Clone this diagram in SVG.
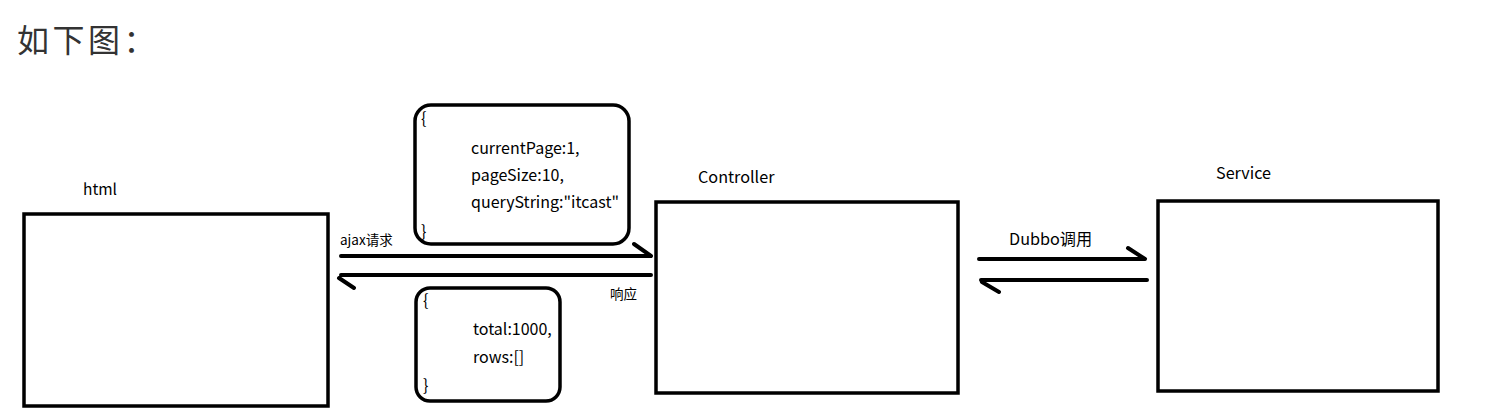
<svg xmlns="http://www.w3.org/2000/svg" width="1486" height="418" viewBox="0 0 1486 418">
<style>
.box{fill:#fff;stroke:#000;stroke-width:3.5}
.rbox{fill:#fff;stroke:#000;stroke-width:3.5}
.ln{stroke:#000;stroke-width:4;fill:none;stroke-linecap:round}
.t{font-family:"Noto Sans CJK SC","Liberation Sans",sans-serif;fill:#000}
.title{font-family:"Liberation Serif","Noto Sans CJK SC",serif;font-size:32px;letter-spacing:3.5px;fill:#333}
</style>
<rect width="1486" height="418" fill="#fff"/>
<text class="title" x="17" y="52">如下图：</text>
<g id="html">
<rect class="box" x="24" y="214" width="304" height="192"/>
<text class="t" x="83" y="195" font-size="15.5">html</text>
</g>
<g id="controller">
<rect class="box" x="656" y="202" width="302" height="191"/>
<text class="t" x="698" y="183" font-size="16.2">Controller</text>
</g>
<g id="service">
<rect class="box" x="1158" y="201" width="280" height="190"/>
<text class="t" x="1216" y="179" font-size="16.2">Service</text>
</g>
<g id="request-data">
<rect class="rbox" x="415" y="105" width="214" height="139" rx="16"/>
<text class="t" font-size="16"><tspan x="421" y="124">{</tspan><tspan x="471" y="154">currentPage:1,</tspan><tspan x="471" y="181">pageSize:10,</tspan><tspan x="471" y="208">queryString:"itcast"</tspan><tspan x="421" y="237">}</tspan></text>
</g>
<g id="response-data">
<rect class="rbox" x="416" y="288" width="144" height="113" rx="14"/>
<text class="t" font-size="16"><tspan x="423" y="306">{</tspan><tspan x="473" y="335">total:1000,</tspan><tspan x="473" y="363">rows:[]</tspan><tspan x="423" y="391">}</tspan></text>
</g>
<g id="connectors">
<path class="ln" d="M341 256 H651 M634 244 L651 256"/>
<path class="ln" d="M651 275 H341 M339 278 L354 288"/>
<path class="ln" d="M979 259 H1145 M1128 248 L1145 259"/>
<path class="ln" d="M1147 280 H981 M982 282 L999 292"/>
<text class="t" x="340" y="245" font-size="13.5">ajax请求</text>
<text class="t" x="610" y="299" font-size="13.5">响应</text>
<text class="t" x="1009" y="245" font-size="16.2">Dubbo调用</text>
</g>
</svg>
